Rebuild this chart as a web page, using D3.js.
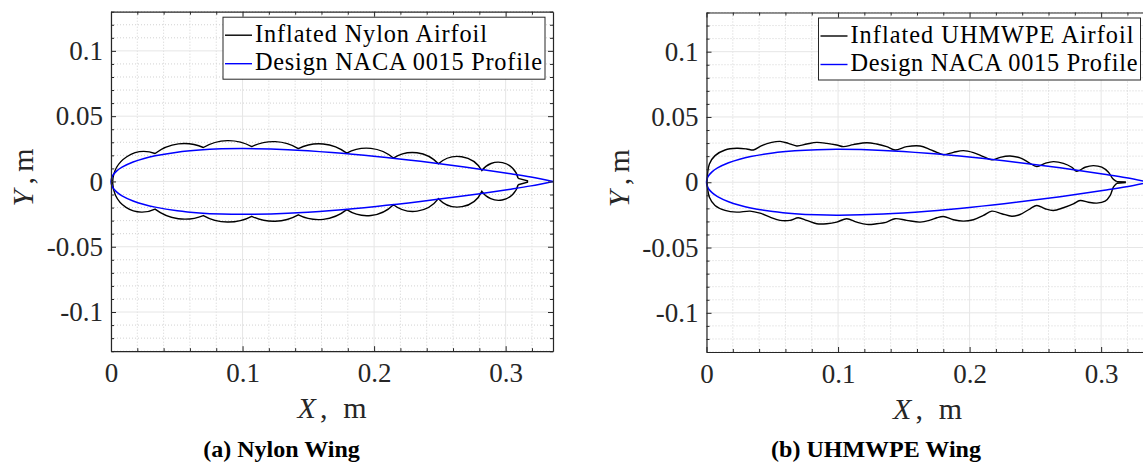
<!DOCTYPE html>
<html>
<head>
<meta charset="utf-8">
<script src="https://cdn.jsdelivr.net/npm/d3@7"></script>
<style>
  body { margin: 0; background: white; }
  svg { display: block; }
</style>
</head>
<body>
<div id="vis"></div>
<script>
const layout = {
    width: 1143,
    height: 472,
    plotWidth: 442,
    plotHeight: 339.5,
    panels: [{left: 111, top: 11.7}, {left: 706.5, top: 12.5}],
    majorTick: 5,
    minorTick: 3
};

// axis limits and ticks
const xLimits = [0, 0.336];
const yLimits = [-0.13, 0.13];
const xMajorTicks = [0, 0.1, 0.2, 0.3];
const xTickLabels = ["0", "0.1", "0.2", "0.3"];
const xMinorTicks = [0.02, 0.04, 0.06, 0.08, 0.12, 0.14, 0.16, 0.18, 0.22, 0.24, 0.26, 0.28, 0.32];
const yMajorTicks = [-0.1, -0.05, 0, 0.05, 0.1];
const yTickLabels = ["-0.1", "-0.05", "0", "0.05", "0.1"];
const yMinorTicks = [-0.13, -0.12, -0.11, -0.09, -0.08, -0.07, -0.06, -0.04, -0.03, -0.02, -0.01,
                     0.01, 0.02, 0.03, 0.04, 0.06, 0.07, 0.08, 0.09, 0.11, 0.12, 0.13];

// design NACA 0015 profile, metres
const nacaUpper = [[0.336, 0], [0.3192, 0.00339], [0.3024, 0.00608], [0.2688, 0.01102], [0.2352, 0.01539],
    [0.2016, 0.01917], [0.168, 0.02223], [0.1344, 0.02437], [0.1008, 0.02521], [0.084, 0.02496],
    [0.0672, 0.0241], [0.0504, 0.02245], [0.0336, 0.01967], [0.0252, 0.01764], [0.0168, 0.01493],
    [0.0084, 0.01098], [0.0042, 0.00795], [0.00168, 0.00514], [0.00084, 0.00366], [0, 0]];
const nacaLower = [[0, 0], [0.00084, -0.00366], [0.00168, -0.00514], [0.0042, -0.00795], [0.0084, -0.01098],
    [0.0168, -0.01493], [0.0252, -0.01764], [0.0336, -0.01967], [0.0504, -0.02245], [0.0672, -0.0241],
    [0.084, -0.02496], [0.1008, -0.02521], [0.1344, -0.02437], [0.168, -0.02223], [0.2016, -0.01917],
    [0.2352, -0.01539], [0.2688, -0.01102], [0.3024, -0.00608], [0.3192, -0.00339], [0.336, 0]];

// inflated nylon airfoil: seams between tubes and one apex point per tube lobe
const nylonUpperSeams = [[0.0013, 0], [0.0335, 0.0214], [0.0702, 0.0260], [0.1070, 0.0267], [0.1424, 0.0252],
    [0.1792, 0.0217], [0.2147, 0.0179], [0.2489, 0.0135], [0.2819, 0.0084], [0.3095, 0.0024]];
const nylonUpperApex = [[0.0243, 0.0229], [0.0538, 0.0290], [0.0892, 0.0313], [0.1247, 0.0305], [0.1605, 0.0288],
    [0.1954, 0.0255], [0.2312, 0.0221], [0.2654, 0.0191], [0.2958, 0.0147]];
const nylonLowerSeams = [[0.0013, 0], [0.0335, -0.0212], [0.0702, -0.0261], [0.1070, -0.0267], [0.1424, -0.0256],
    [0.1792, -0.0216], [0.2147, -0.0178], [0.2489, -0.0132], [0.2819, -0.0076], [0.3095, -0.0025]];
const nylonLowerApex = [[0.0243, -0.0235], [0.0538, -0.0288], [0.0892, -0.0311], [0.1247, -0.0305], [0.1605, -0.0291],
    [0.1954, -0.0262], [0.2312, -0.0229], [0.2654, -0.0195], [0.2958, -0.0144]];
const nylonTail = [[0.3095, 0.0024], [0.3166, 0.0005], [0.3166, -0.0005], [0.3095, -0.0025]];

// inflated UHMWPE airfoil outline
const uhmwpeUpper = [[0.0004, 0.0007], [0.0022, 0.0140], [0.0065, 0.0204], [0.0141, 0.0247], [0.0230, 0.0260],
    [0.0306, 0.0255], [0.0356, 0.0247], [0.0420, 0.0280], [0.0496, 0.0305], [0.0559, 0.0313], [0.0622, 0.0298],
    [0.0686, 0.0278], [0.0762, 0.0293], [0.0838, 0.0305], [0.0914, 0.0298], [0.0990, 0.0285], [0.1040, 0.0273],
    [0.1116, 0.0288], [0.1218, 0.0303], [0.1294, 0.0293], [0.1370, 0.0273], [0.1433, 0.0247], [0.1522, 0.0273],
    [0.1624, 0.0278], [0.1700, 0.0250], [0.1751, 0.0229], [0.1801, 0.0211], [0.1877, 0.0229], [0.1953, 0.0242],
    [0.2029, 0.0227], [0.2105, 0.0196], [0.2169, 0.0171], [0.2232, 0.0191], [0.2308, 0.0201], [0.2384, 0.0186],
    [0.2447, 0.0153], [0.2511, 0.0120], [0.2574, 0.0145], [0.2637, 0.0158], [0.2713, 0.0145], [0.2777, 0.0115],
    [0.2815, 0.0084], [0.2878, 0.0115], [0.2941, 0.0127], [0.3005, 0.0115], [0.3056, 0.0076], [0.3089, 0.0026],
    [0.3119, 0.0005]];
const uhmwpeLower = [[0.0004, 0.0007], [0.0022, -0.0115], [0.0065, -0.0178], [0.0141, -0.0216], [0.0230, -0.0229],
    [0.0331, -0.0221], [0.0407, -0.0237], [0.0483, -0.0267], [0.0559, -0.0292], [0.0635, -0.0292], [0.0698, -0.0272],
    [0.0762, -0.0292], [0.0838, -0.0318], [0.0914, -0.0318], [0.0990, -0.0305], [0.1066, -0.0279], [0.1142, -0.0305],
    [0.1218, -0.0323], [0.1294, -0.0318], [0.1370, -0.0305], [0.1433, -0.0279], [0.1522, -0.0292], [0.1624, -0.0305],
    [0.1700, -0.0290], [0.1751, -0.0272], [0.1801, -0.0262], [0.1877, -0.0287], [0.1953, -0.0298], [0.2029, -0.0287],
    [0.2105, -0.0254], [0.2169, -0.0221], [0.2245, -0.0241], [0.2321, -0.0260], [0.2384, -0.0247], [0.2460, -0.0203],
    [0.2511, -0.0178], [0.2574, -0.0203], [0.2637, -0.0216], [0.2713, -0.0195], [0.2789, -0.0165], [0.2840, -0.0140],
    [0.2903, -0.0153], [0.2967, -0.0160], [0.3030, -0.0145], [0.3068, -0.0102], [0.3093, -0.0038], [0.3119, -0.0008]];
const uhmwpeTail = [[0.3119, 0.0005], [0.3183, 0.0002], [0.3183, -0.0003], [0.3119, -0.0008]];

const legendLabels = [
    ["Inflated Nylon Airfoil", "Design NACA 0015 Profile"],
    ["Inflated UHMWPE Airfoil", "Design NACA 0015 Profile"]
];
const legendWidths = [[232, 287], [283, 287]];
const captions = ["(a) Nylon Wing", "(b) UHMWPE Wing"];
const captionX = [281.5, 876];

const serif = "'Liberation Serif', 'Times New Roman', serif";
const axisColor = "#262626";

let svg = d3.select("#vis").append("svg")
    .attr("width", layout.width)
    .attr("height", layout.height)
    .attr("viewBox", [0, 0, layout.width, layout.height].join(" "));

let xScale = d3.scaleLinear().domain(xLimits).range([0, layout.plotWidth]);
let yScale = d3.scaleLinear().domain(yLimits).range([layout.plotHeight, 0]);

// circular arc through three points (tube lobe)
function lobePath(seams, apexes) {
    let p = d3.path();
    p.moveTo(xScale(seams[0][0]), yScale(seams[0][1]));
    for (let i = 0; i < apexes.length; i++) {
        let a = [xScale(seams[i][0]), yScale(seams[i][1])];
        let m = [xScale(apexes[i][0]), yScale(apexes[i][1])];
        let b = [xScale(seams[i + 1][0]), yScale(seams[i + 1][1])];
        let d = 2 * (a[0] * (m[1] - b[1]) + m[0] * (b[1] - a[1]) + b[0] * (a[1] - m[1]));
        let a2 = a[0] * a[0] + a[1] * a[1], m2 = m[0] * m[0] + m[1] * m[1], b2 = b[0] * b[0] + b[1] * b[1];
        let cx = (a2 * (m[1] - b[1]) + m2 * (b[1] - a[1]) + b2 * (a[1] - m[1])) / d;
        let cy = (a2 * (b[0] - m[0]) + m2 * (a[0] - b[0]) + b2 * (m[0] - a[0])) / d;
        let r = Math.hypot(a[0] - cx, a[1] - cy);
        let cross = (m[0] - a[0]) * (b[1] - m[1]) - (m[1] - a[1]) * (b[0] - m[0]);
        p.arc(cx, cy, r, Math.atan2(a[1] - cy, a[0] - cx), Math.atan2(b[1] - cy, b[0] - cx), cross < 0);
    }
    return p.toString();
}

let smoothLine = d3.line()
    .x(d => xScale(d[0]))
    .y(d => yScale(d[1]))
    .curve(d3.curveCatmullRom.alpha(0.5));
let straightLine = d3.line()
    .x(d => xScale(d[0]))
    .y(d => yScale(d[1]));

function drawPanel(idx) {
    let pos = layout.panels[idx];
    let g = svg.append("g").attr("transform", `translate(${pos.left},${pos.top})`);

    // grid
    let minorGrid = g.append("g");
    minorGrid.selectAll("line.vx").data(xMinorTicks).join("line")
        .attr("x1", d => xScale(d)).attr("x2", d => xScale(d))
        .attr("y1", 0).attr("y2", layout.plotHeight);
    minorGrid.selectAll("line.hy").data(yMinorTicks).join("line")
        .attr("x1", 0).attr("x2", layout.plotWidth)
        .attr("y1", d => yScale(d)).attr("y2", d => yScale(d));
    minorGrid.selectAll("line")
        .attr("stroke", "#d2d2d2").attr("stroke-width", 1).attr("stroke-dasharray", "1,2");
    let majorGrid = g.append("g");
    majorGrid.selectAll("line.vx").data(xMajorTicks).join("line")
        .attr("class", "vx")
        .attr("x1", d => xScale(d)).attr("x2", d => xScale(d))
        .attr("y1", 0).attr("y2", layout.plotHeight);
    majorGrid.selectAll("line.hy").data(yMajorTicks).join("line")
        .attr("class", "hy")
        .attr("x1", 0).attr("x2", layout.plotWidth)
        .attr("y1", d => yScale(d)).attr("y2", d => yScale(d));
    majorGrid.selectAll("line").attr("stroke", "#e6e6e6").attr("stroke-width", 1);

    // data
    if (idx === 0) {
        g.append("path").attr("d", lobePath(nylonUpperSeams, nylonUpperApex));
        g.append("path").attr("d", lobePath(nylonLowerSeams, nylonLowerApex));
        g.append("path").attr("d", straightLine(nylonTail));
    } else {
        g.append("path").attr("d", smoothLine(uhmwpeUpper));
        g.append("path").attr("d", smoothLine(uhmwpeLower));
        g.append("path").attr("d", straightLine(uhmwpeTail));
    }
    g.selectAll("path").attr("fill", "none").attr("stroke", "black").attr("stroke-width", 1.4);
    g.append("path")
        .attr("d", smoothLine(nacaUpper.concat(nacaLower.slice(1))))
        .attr("fill", "none")
        .attr("stroke", "#0000ff")
        .attr("stroke-width", 1.5);

    // axes, ticks pointing inward on all four sides
    let axes = [
        [d3.axisBottom, `translate(0,${layout.plotHeight})`, xScale, xMajorTicks, xMinorTicks, true],
        [d3.axisTop, "translate(0,0)", xScale, xMajorTicks, xMinorTicks, false],
        [d3.axisLeft, "translate(0,0)", yScale, yMajorTicks, yMinorTicks, true],
        [d3.axisRight, `translate(${layout.plotWidth},0)`, yScale, yMajorTicks, yMinorTicks, false]
    ];
    axes.forEach(([axisFn, tr, scale, major, minor, labelled]) => {
        g.append("g").attr("transform", tr)
            .call(axisFn(scale).tickValues(minor).tickSize(-layout.minorTick).tickFormat(""))
            .call(a => a.select(".domain").remove());
        let isX = scale === xScale;
        let ax = axisFn(scale).tickValues(major).tickSizeInner(-layout.majorTick).tickSizeOuter(0)
            .tickPadding(isX ? 12 : 8)
            .tickFormat(labelled ? (d, i) => (isX ? xTickLabels : yTickLabels)[i] : "");
        let ag = g.append("g").attr("transform", tr).call(ax);
        ag.selectAll("text").attr("font-family", serif).attr("font-size", 27).attr("fill", axisColor);
        ag.selectAll("line").attr("stroke", axisColor);
        ag.select(".domain").attr("stroke", axisColor).attr("stroke-width", 1.2);
    });
    g.selectAll(".tick line").attr("stroke", axisColor).attr("stroke-width", 1);

    // axis labels
    let xl = g.append("text")
        .attr("x", layout.plotWidth / 2).attr("y", 406.5)
        .attr("text-anchor", "middle")
        .attr("font-family", serif).attr("font-size", 30).attr("fill", axisColor)
        .attr("textLength", 69).attr("lengthAdjust", "spacing");
    xl.append("tspan").attr("font-style", "italic").text("X");
    xl.append("tspan").text(", m");
    let yl = g.append("text")
        .attr("transform", `translate(-78,${layout.plotHeight / 2 - 4}) rotate(-90)`)
        .attr("text-anchor", "middle")
        .attr("font-family", serif).attr("font-size", 30).attr("fill", axisColor)
        .attr("textLength", 58).attr("lengthAdjust", "spacing");
    yl.append("tspan").attr("font-style", "italic").text("Y");
    yl.append("tspan").text(" , m");

    // legend
    let lg = g.append("g").attr("transform", `translate(${112},${5.5})`);
    lg.append("rect")
        .attr("x", 0).attr("y", 0).attr("width", 322).attr("height", 62)
        .attr("fill", "white").attr("stroke", axisColor).attr("stroke-width", 1);
    let colors = ["black", "#0000ff"];
    legendLabels[idx].forEach((label, i) => {
        lg.append("line")
            .attr("x1", 2).attr("x2", 29)
            .attr("y1", 18 + i * 28.5).attr("y2", 18 + i * 28.5)
            .attr("stroke", colors[i]).attr("stroke-width", 1.4);
        lg.append("text")
            .attr("x", 32).attr("y", 24.5 + i * 28.5)
            .attr("font-family", serif).attr("font-size", 24.3).attr("fill", "black")
            .attr("textLength", legendWidths[idx][i]).attr("lengthAdjust", "spacing")
            .text(label);
    });

    // sub-caption
    svg.append("text")
        .attr("x", captionX[idx]).attr("y", 456.5)
        .attr("text-anchor", "middle")
        .attr("font-family", serif).attr("font-weight", "bold").attr("font-size", 24)
        .attr("fill", "black")
        .text(captions[idx]);
}

drawPanel(0);
drawPanel(1);
</script>
</body>
</html>
